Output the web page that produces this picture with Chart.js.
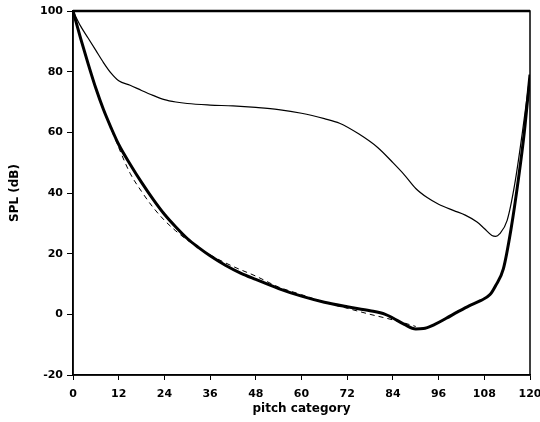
<!DOCTYPE html>
<html>
<head>
<meta charset="utf-8">
<script src="https://cdn.jsdelivr.net/npm/chart.js@4"></script>
<style>
    html, body { margin: 0; padding: 0; background: #fff; }
    #wrap { width: 540px; height: 422px; }
</style>
</head>
<body>
<div id="wrap"><canvas id="splChart" width="540" height="422"></canvas></div>
<script>
// values
const thinX = [0, 2, 4, 6, 8, 10, 12, 15, 18, 21, 24, 27, 30, 36, 42, 48, 54, 60, 66, 70, 75, 80, 84, 87, 90, 93, 96, 100, 103, 106, 108, 110, 111, 112, 114, 116, 118, 120];
const thinY = [100, 95, 91, 87, 83, 79.5, 77, 75.5, 73.8, 72.2, 70.8, 70, 69.5, 69, 68.7, 68.2, 67.5, 66.3, 64.5, 63, 59.5, 55, 50, 46, 41.5, 38.5, 36.3, 34.2, 32.7, 30.5, 28.3, 26, 25.7, 26.5, 31, 43, 60, 79];

const thickX = [0, 2, 4, 6, 8, 10, 12, 15, 18, 21, 24, 27, 30, 33, 36, 40, 44, 48, 54, 60, 66, 72, 78, 82, 84, 87, 90, 92, 95, 98, 101, 104, 107, 109.5, 111, 113, 115, 117, 118.5, 120];
const thickY = [100, 91, 82.5, 74.5, 67.5, 61.5, 56, 49.5, 43.5, 38, 33, 28.8, 25, 22, 19.3, 16.2, 13.6, 11.5, 8.5, 6, 4, 2.5, 1.2, 0, -1.2, -3.3, -4.8, -4.7, -3.3, -1.3, 0.8, 2.8, 4.5, 6.5, 9.5, 15, 28, 45, 60, 79];

const dashX = [0, 6, 12, 15, 18, 21, 24, 27, 30, 36, 42, 48, 54, 60, 66, 72, 78, 82, 86, 90];
const dashY = [100, 74.5, 55, 46.5, 40.5, 35.3, 31, 27.5, 24.5, 19.6, 15.8, 12.6, 9, 6.5, 4, 2, 0, -1.2, -2.5, -4];

const xTicks = [0, 12, 24, 36, 48, 60, 72, 84, 96, 108, 120];
const yTicks = [-20, 0, 20, 40, 60, 80, 100];

function toPoints(xs, ys) {
    return xs.map((x, i) => ({ x: x, y: ys[i] }));
}

const frame = {
    id: "frame",
    afterDraw(chart) {
        const a = chart.chartArea;
        const ctx = chart.ctx;
        ctx.save();
        ctx.strokeStyle = "#000";
        ctx.lineWidth = 1.5;
        ctx.strokeRect(a.left, a.top, a.right - a.left, a.bottom - a.top);
        ctx.lineWidth = 2.5;
        ctx.beginPath();
        ctx.moveTo(a.left, a.top);
        ctx.lineTo(a.right, a.top);
        ctx.stroke();
        ctx.restore();
    }
};

const font = { family: "DejaVu Sans", size: 11, weight: "bold" };

new Chart(document.getElementById("splChart").getContext("2d"), {
    type: "line",
    data: {
        datasets: [
            {
                data: toPoints(thinX, thinY),
                borderColor: "#000",
                borderWidth: 1.2,
                pointRadius: 0,
                cubicInterpolationMode: "monotone"
            },
            {
                data: toPoints(dashX, dashY),
                borderColor: "#000",
                borderWidth: 1,
                borderDash: [5, 4],
                pointRadius: 0,
                cubicInterpolationMode: "monotone"
            },
            {
                data: toPoints(thickX, thickY),
                borderColor: "#000",
                borderWidth: 3,
                pointRadius: 0,
                cubicInterpolationMode: "monotone"
            }
        ]
    },
    options: {
        responsive: false,
        animation: false,
        layout: { padding: { top: 11, right: 10, left: 0, bottom: 0 } },
        plugins: { legend: { display: false }, tooltip: { enabled: false } },
        scales: {
            x: {
                type: "linear",
                min: 0,
                max: 120,
                afterBuildTicks: s => { s.ticks = xTicks.map(v => ({ value: v })); },
                afterFit: s => { s.height = 47; s.paddingLeft = 0; s.paddingRight = 0; },
                grid: { drawOnChartArea: false, tickLength: 5, color: "#000" },
                border: { color: "#000", width: 1.5 },
                ticks: { color: "#000", font: font, padding: 8, maxRotation: 0 },
                title: { display: true, text: "pitch category", color: "#000", font: { family: "DejaVu Sans", size: 12, weight: "bold" }, padding: { top: 0, bottom: 6 } }
            },
            y: {
                min: -20,
                max: 100,
                afterBuildTicks: s => { s.ticks = yTicks.map(v => ({ value: v })); },
                afterFit: s => { s.width = 73; s.paddingTop = 0; s.paddingBottom = 0; },
                grid: { drawOnChartArea: false, tickLength: 6, color: "#000" },
                border: { color: "#000", width: 1.5 },
                ticks: { color: "#000", font: font, padding: 4 },
                title: { display: true, text: "SPL (dB)", color: "#000", font: { family: "DejaVu Sans", size: 12, weight: "bold" }, padding: { top: 8, bottom: 0 } }
            }
        }
    },
    plugins: [frame]
});
</script>
</body>
</html>
